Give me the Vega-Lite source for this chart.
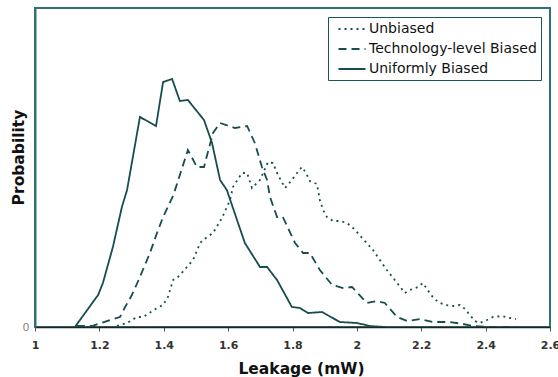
{
  "$schema": "https://vega.github.io/schema/vega-lite/v6.json",
  "width": 515,
  "height": 319,
  "autosize": {"type": "none"},
  "padding": {"left": 35, "top": 8, "right": 8, "bottom": 50},
  "background": "white",
  "config": {
    "view": {"stroke": "#2e7373", "strokeWidth": 2},
    "font": "DejaVu Sans"
  },
  "data": {
    "values": [
      {"s": "Uniformly Biased", "x": 1.124, "y": 0},
      {"s": "Uniformly Biased", "x": 1.196, "y": 32},
      {"s": "Uniformly Biased", "x": 1.211, "y": 44},
      {"s": "Uniformly Biased", "x": 1.242, "y": 80},
      {"s": "Uniformly Biased", "x": 1.270, "y": 120},
      {"s": "Uniformly Biased", "x": 1.286, "y": 137},
      {"s": "Uniformly Biased", "x": 1.326, "y": 210},
      {"s": "Uniformly Biased", "x": 1.376, "y": 201},
      {"s": "Uniformly Biased", "x": 1.398, "y": 245},
      {"s": "Uniformly Biased", "x": 1.426, "y": 248},
      {"s": "Uniformly Biased", "x": 1.450, "y": 226},
      {"s": "Uniformly Biased", "x": 1.475, "y": 227},
      {"s": "Uniformly Biased", "x": 1.525, "y": 207},
      {"s": "Uniformly Biased", "x": 1.550, "y": 184},
      {"s": "Uniformly Biased", "x": 1.575, "y": 147},
      {"s": "Uniformly Biased", "x": 1.596, "y": 137},
      {"s": "Uniformly Biased", "x": 1.652, "y": 84},
      {"s": "Uniformly Biased", "x": 1.699, "y": 60},
      {"s": "Uniformly Biased", "x": 1.721, "y": 60},
      {"s": "Uniformly Biased", "x": 1.752, "y": 47},
      {"s": "Uniformly Biased", "x": 1.798, "y": 20},
      {"s": "Uniformly Biased", "x": 1.823, "y": 19},
      {"s": "Uniformly Biased", "x": 1.848, "y": 14},
      {"s": "Uniformly Biased", "x": 1.892, "y": 15},
      {"s": "Uniformly Biased", "x": 1.947, "y": 5},
      {"s": "Uniformly Biased", "x": 2.000, "y": 4},
      {"s": "Uniformly Biased", "x": 2.041, "y": 1},
      {"s": "Uniformly Biased", "x": 2.087, "y": 0},

      {"s": "Technology-level Biased", "x": 1.130, "y": 1},
      {"s": "Technology-level Biased", "x": 1.177, "y": 1},
      {"s": "Technology-level Biased", "x": 1.233, "y": 7},
      {"s": "Technology-level Biased", "x": 1.264, "y": 10},
      {"s": "Technology-level Biased", "x": 1.280, "y": 20},
      {"s": "Technology-level Biased", "x": 1.301, "y": 32},
      {"s": "Technology-level Biased", "x": 1.326, "y": 50},
      {"s": "Technology-level Biased", "x": 1.357, "y": 74},
      {"s": "Technology-level Biased", "x": 1.379, "y": 94},
      {"s": "Technology-level Biased", "x": 1.398, "y": 110},
      {"s": "Technology-level Biased", "x": 1.430, "y": 132},
      {"s": "Technology-level Biased", "x": 1.475, "y": 177},
      {"s": "Technology-level Biased", "x": 1.503, "y": 160},
      {"s": "Technology-level Biased", "x": 1.525, "y": 160},
      {"s": "Technology-level Biased", "x": 1.553, "y": 194},
      {"s": "Technology-level Biased", "x": 1.575, "y": 204},
      {"s": "Technology-level Biased", "x": 1.621, "y": 199},
      {"s": "Technology-level Biased", "x": 1.659, "y": 201},
      {"s": "Technology-level Biased", "x": 1.683, "y": 184},
      {"s": "Technology-level Biased", "x": 1.705, "y": 160},
      {"s": "Technology-level Biased", "x": 1.721, "y": 147},
      {"s": "Technology-level Biased", "x": 1.730, "y": 130},
      {"s": "Technology-level Biased", "x": 1.752, "y": 110},
      {"s": "Technology-level Biased", "x": 1.770, "y": 110},
      {"s": "Technology-level Biased", "x": 1.808, "y": 84},
      {"s": "Technology-level Biased", "x": 1.833, "y": 74},
      {"s": "Technology-level Biased", "x": 1.854, "y": 74},
      {"s": "Technology-level Biased", "x": 1.885, "y": 57},
      {"s": "Technology-level Biased", "x": 1.923, "y": 42},
      {"s": "Technology-level Biased", "x": 1.957, "y": 39},
      {"s": "Technology-level Biased", "x": 1.985, "y": 40},
      {"s": "Technology-level Biased", "x": 2.031, "y": 24},
      {"s": "Technology-level Biased", "x": 2.062, "y": 26},
      {"s": "Technology-level Biased", "x": 2.087, "y": 24},
      {"s": "Technology-level Biased", "x": 2.125, "y": 10},
      {"s": "Technology-level Biased", "x": 2.156, "y": 6},
      {"s": "Technology-level Biased", "x": 2.196, "y": 8},
      {"s": "Technology-level Biased", "x": 2.236, "y": 5},
      {"s": "Technology-level Biased", "x": 2.289, "y": 5},
      {"s": "Technology-level Biased", "x": 2.330, "y": 3},
      {"s": "Technology-level Biased", "x": 2.361, "y": 1},
      {"s": "Technology-level Biased", "x": 2.413, "y": 0},
      {"s": "Technology-level Biased", "x": 2.497, "y": 0},

      {"s": "Unbiased", "x": 1.162, "y": 0},
      {"s": "Unbiased", "x": 1.242, "y": 0},
      {"s": "Unbiased", "x": 1.286, "y": 4},
      {"s": "Unbiased", "x": 1.317, "y": 10},
      {"s": "Unbiased", "x": 1.336, "y": 10},
      {"s": "Unbiased", "x": 1.379, "y": 19},
      {"s": "Unbiased", "x": 1.398, "y": 22},
      {"s": "Unbiased", "x": 1.413, "y": 30},
      {"s": "Unbiased", "x": 1.429, "y": 47},
      {"s": "Unbiased", "x": 1.444, "y": 50},
      {"s": "Unbiased", "x": 1.472, "y": 60},
      {"s": "Unbiased", "x": 1.491, "y": 67},
      {"s": "Unbiased", "x": 1.513, "y": 84},
      {"s": "Unbiased", "x": 1.522, "y": 87},
      {"s": "Unbiased", "x": 1.553, "y": 94},
      {"s": "Unbiased", "x": 1.581, "y": 109},
      {"s": "Unbiased", "x": 1.606, "y": 127},
      {"s": "Unbiased", "x": 1.615, "y": 140},
      {"s": "Unbiased", "x": 1.643, "y": 154},
      {"s": "Unbiased", "x": 1.659, "y": 154},
      {"s": "Unbiased", "x": 1.674, "y": 139},
      {"s": "Unbiased", "x": 1.699, "y": 147},
      {"s": "Unbiased", "x": 1.724, "y": 165},
      {"s": "Unbiased", "x": 1.739, "y": 164},
      {"s": "Unbiased", "x": 1.755, "y": 152},
      {"s": "Unbiased", "x": 1.777, "y": 139},
      {"s": "Unbiased", "x": 1.798, "y": 147},
      {"s": "Unbiased", "x": 1.814, "y": 154},
      {"s": "Unbiased", "x": 1.829, "y": 160},
      {"s": "Unbiased", "x": 1.842, "y": 154},
      {"s": "Unbiased", "x": 1.854, "y": 146},
      {"s": "Unbiased", "x": 1.876, "y": 143},
      {"s": "Unbiased", "x": 1.885, "y": 127},
      {"s": "Unbiased", "x": 1.895, "y": 117},
      {"s": "Unbiased", "x": 1.907, "y": 110},
      {"s": "Unbiased", "x": 1.926, "y": 106},
      {"s": "Unbiased", "x": 1.947, "y": 106},
      {"s": "Unbiased", "x": 1.969, "y": 104},
      {"s": "Unbiased", "x": 1.988, "y": 99},
      {"s": "Unbiased", "x": 2.003, "y": 94},
      {"s": "Unbiased", "x": 2.019, "y": 88},
      {"s": "Unbiased", "x": 2.050, "y": 77},
      {"s": "Unbiased", "x": 2.093, "y": 57},
      {"s": "Unbiased", "x": 2.125, "y": 44},
      {"s": "Unbiased", "x": 2.149, "y": 34},
      {"s": "Unbiased", "x": 2.165, "y": 37},
      {"s": "Unbiased", "x": 2.190, "y": 40},
      {"s": "Unbiased", "x": 2.205, "y": 44},
      {"s": "Unbiased", "x": 2.233, "y": 31},
      {"s": "Unbiased", "x": 2.252, "y": 25},
      {"s": "Unbiased", "x": 2.274, "y": 22},
      {"s": "Unbiased", "x": 2.299, "y": 21},
      {"s": "Unbiased", "x": 2.320, "y": 22},
      {"s": "Unbiased", "x": 2.336, "y": 18},
      {"s": "Unbiased", "x": 2.351, "y": 12},
      {"s": "Unbiased", "x": 2.367, "y": 6},
      {"s": "Unbiased", "x": 2.382, "y": 4},
      {"s": "Unbiased", "x": 2.404, "y": 7},
      {"s": "Unbiased", "x": 2.423, "y": 10},
      {"s": "Unbiased", "x": 2.451, "y": 11},
      {"s": "Unbiased", "x": 2.476, "y": 9},
      {"s": "Unbiased", "x": 2.494, "y": 8}
    ]
  },
  "mark": {"type": "line", "color": "#174d4d", "strokeWidth": 1.8, "clip": true},
  "encoding": {
    "x": {
      "field": "x",
      "type": "quantitative",
      "scale": {"domain": [1, 2.6], "nice": false, "zero": false},
      "axis": {
        "values": [1, 1.2, 1.4, 1.6, 1.8, 2, 2.2, 2.4, 2.6],
        "format": "~g",
        "grid": false,
        "domainColor": "#222222",
        "domainWidth": 1.5,
        "tickColor": "#555555",
        "tickSize": 4,
        "labelFont": "DejaVu Sans",
        "labelFontWeight": "bold",
        "labelFontSize": 11,
        "labelColor": "#333333",
        "labelPadding": 8,
        "labelFlush": false,
        "title": "Leakage (mW)",
        "titleFont": "DejaVu Sans",
        "titleFontWeight": "bold",
        "titleFontSize": 15.5,
        "titleColor": "#111111",
        "titleX": 266,
        "titleY": 41,
        "titleBaseline": "middle",
        "titleAlign": "center"
      }
    },
    "y": {
      "field": "y",
      "type": "quantitative",
      "scale": {"domain": [0, 319], "nice": false},
      "axis": {
        "values": [0],
        "grid": false,
        "ticks": false,
        "domainColor": "#2e7373",
        "domainWidth": 2,
        "labelFont": "DejaVu Sans",
        "labelFontSize": 11,
        "labelColor": "#888888",
        "labelPadding": 6,
        "title": "Probability",
        "titleFont": "DejaVu Sans",
        "titleFontWeight": "bold",
        "titleFontSize": 15.5,
        "titleColor": "#111111",
        "titleAngle": -90,
        "titleX": -17,
        "titleY": 149,
        "titleBaseline": "middle",
        "titleAlign": "center"
      }
    },
    "strokeDash": {
      "field": "s",
      "type": "nominal",
      "scale": {
        "domain": ["Unbiased", "Technology-level Biased", "Uniformly Biased"],
        "range": [[2, 4], [8, 5], [1, 0]]
      },
      "legend": {
        "title": null,
        "orient": "none",
        "legendX": 293,
        "legendY": 9,
        "padding": 4,
        "symbolOffset": 12,
        "strokeColor": "#1b5555",
        "fillColor": "white",
        "symbolType": "M-2,0H2",
        "symbolSize": 182,
        "symbolStrokeColor": "#174d4d",
        "symbolStrokeWidth": 1.8,
        "labelFont": "DejaVu Sans",
        "labelFontSize": 14,
        "labelColor": "#111111",
        "labelOffset": 9,
        "rowPadding": 5,
        "labelLimit": 300
      }
    }
  }
}
